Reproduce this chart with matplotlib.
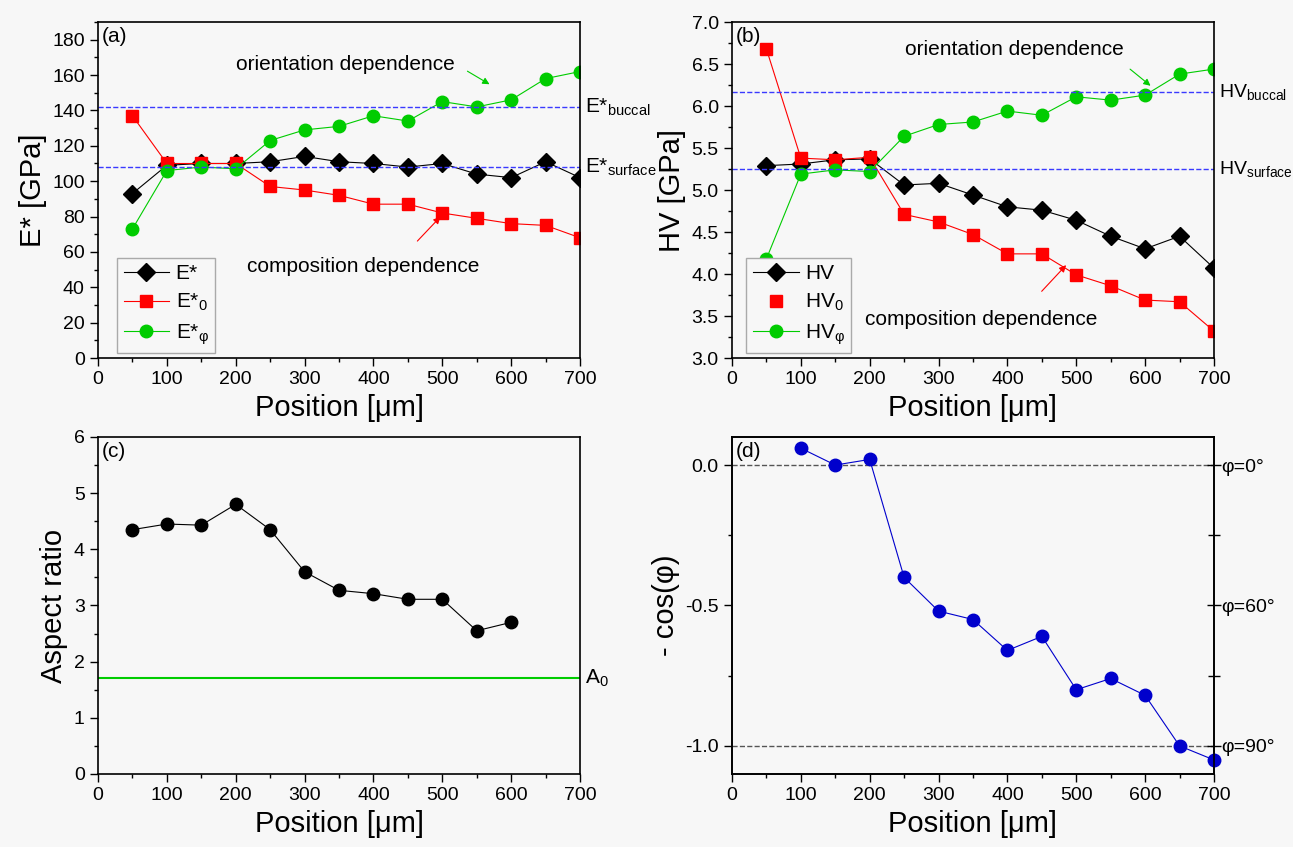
import numpy as np
import matplotlib
matplotlib.use('Agg')
import matplotlib.pyplot as plt
from matplotlib.ticker import MultipleLocator, FixedLocator, FormatStrFormatter

plt.rcParams['font.family'] = ['Liberation Sans', 'DejaVu Sans']
plt.rcParams['mathtext.fontset'] = 'custom'
plt.rcParams['mathtext.rm'] = 'Liberation Sans'
plt.rcParams['mathtext.it'] = 'Liberation Sans:italic'
plt.rcParams['axes.unicode_minus'] = False
plt.rcParams['font.size'] = 14

# 数据
pos = [50, 100, 150, 200, 250, 300, 350, 400, 450, 500, 550, 600, 650, 700]
E_star = [93, 109, 110, 110, 111, 114, 111, 110, 108, 110, 104, 102, 111, 102]
E_0 = [137, 110, 110, 110, 97, 95, 92, 87, 87, 82, 79, 76, 75, 68]
E_phi = [73, 106, 108, 107, 123, 129, 131, 137, 134, 145, 142, 146, 158, 162]
E_buccal = 142
E_surface = 108

HV = [5.29, 5.31, 5.36, 5.37, 5.06, 5.08, 4.94, 4.80, 4.76, 4.64, 4.45, 4.30, 4.45, 4.07]
HV_0 = [6.68, 5.38, 5.36, 5.39, 4.71, 4.62, 4.47, 4.24, 4.24, 3.99, 3.86, 3.69, 3.67, 3.32]
HV_phi = [4.18, 5.19, 5.24, 5.22, 5.64, 5.78, 5.81, 5.94, 5.89, 6.11, 6.07, 6.13, 6.38, 6.44]
HV_buccal = 6.17
HV_surface = 5.25

pos_c = [50, 100, 150, 200, 250, 300, 350, 400, 450, 500, 550, 600]
aspect = [4.35, 4.45, 4.43, 4.80, 4.35, 3.60, 3.27, 3.21, 3.11, 3.11, 2.55, 2.70]
A_0 = 1.7

pos_d = [100, 150, 200, 250, 300, 350, 400, 450, 500, 550, 600, 650, 700]
mcos = [0.06, 0.0, 0.02, -0.40, -0.52, -0.55, -0.66, -0.61, -0.80, -0.76, -0.82, -1.0, -1.05]
phi_ticks = [0.0, -0.5, -1.0]
phi_labels = ['φ=0°', 'φ=60°', 'φ=90°']

bg = '#f7f7f7'
green = '#00cc00'
red = '#ff0000'
blue_dash = '#3a3aff'

fig = plt.figure(figsize=(12.93, 8.47), dpi=100, facecolor=bg)
ax_a = fig.add_axes([0.0758, 0.5773, 0.3728, 0.3967])
ax_b = fig.add_axes([0.5661, 0.5773, 0.3728, 0.3967])
ax_c = fig.add_axes([0.0758, 0.0862, 0.3728, 0.3979])
ax_d = fig.add_axes([0.5661, 0.0862, 0.3728, 0.3979])

leg_kw = dict(loc='lower left', fancybox=False, edgecolor='#aaaaaa', facecolor=bg,
              framealpha=1, fontsize=15, handlelength=2.2, handletextpad=0.3,
              labelspacing=0.42, borderpad=0.3, borderaxespad=0.0)


def style(ax):
    ax.set_facecolor(bg)
    ax.set_xlim(0, 700)
    ax.xaxis.set_major_locator(MultipleLocator(100))
    ax.xaxis.set_minor_locator(MultipleLocator(50))
    ax.tick_params(which='major', direction='out', length=6, width=1, labelsize=14)
    ax.tick_params(which='minor', direction='out', length=3, width=1)
    for s in ax.spines.values():
        s.set_linewidth(1.2)
    ax.set_xlabel('Position [μm]', fontsize=21, labelpad=4)


# (a)
style(ax_a)
ax_a.plot(pos, E_star, 'D-', color='black', lw=0.8, ms=9, label='E*')
ax_a.plot(pos, E_0, 's-', color=red, lw=0.8, ms=8, label='E*$_0$')
ax_a.plot(pos, E_phi, 'o-', color=green, lw=0.8, ms=9, label='E*$_{\\mathrm{φ}}$')
ax_a.axhline(E_buccal, color=blue_dash, ls='--', lw=1)
ax_a.axhline(E_surface, color=blue_dash, ls='--', lw=1)
ax_a.set_ylim(0, 190)
ax_a.yaxis.set_major_locator(MultipleLocator(20))
ax_a.yaxis.set_minor_locator(MultipleLocator(10))
ax_a.set_ylabel('E* [GPa]', fontsize=21)
tr = ax_a.get_yaxis_transform()
ax_a.text(1.01, E_buccal, 'E*$_{\\mathrm{buccal}}$', transform=tr, va='center', fontsize=15, clip_on=False)
ax_a.text(1.01, E_surface, 'E*$_{\\mathrm{surface}}$', transform=tr, va='center', fontsize=15, clip_on=False)
ax_a.text(0.008, 0.985, '(a)', transform=ax_a.transAxes, va='top', fontsize=15)
ax_a.text(359, 166, 'orientation dependence', ha='center', va='center', fontsize=15)
ax_a.annotate('', xy=(572, 154), xytext=(533, 163),
              arrowprops=dict(arrowstyle='-|>', color=green, lw=0.8, mutation_scale=10))
ax_a.text(385, 52, 'composition dependence', ha='center', va='center', fontsize=15)
ax_a.annotate('', xy=(500, 81), xytext=(461, 65),
              arrowprops=dict(arrowstyle='-|>', color=red, lw=0.8, mutation_scale=10))
ax_a.legend(bbox_to_anchor=(0.04, 0.015), **leg_kw)

# (b)
style(ax_b)
ax_b.plot(pos, HV, 'D-', color='black', lw=0.8, ms=9, label='HV')
ax_b.plot(pos, HV_0, 's', color=red, ms=8, label='HV$_0$')
ax_b.plot(pos, HV_0, '-', color=red, lw=0.8)
ax_b.plot(pos, HV_phi, 'o-', color=green, lw=0.8, ms=9, label='HV$_{\\mathrm{φ}}$')
ax_b.axhline(HV_buccal, color=blue_dash, ls='--', lw=1)
ax_b.axhline(HV_surface, color=blue_dash, ls='--', lw=1)
ax_b.set_ylim(3.0, 7.0)
ax_b.yaxis.set_major_locator(MultipleLocator(0.5))
ax_b.yaxis.set_major_formatter(FormatStrFormatter('%.1f'))
ax_b.yaxis.set_minor_locator(MultipleLocator(0.25))
ax_b.set_ylabel('HV [GPa]', fontsize=21)
tr = ax_b.get_yaxis_transform()
ax_b.text(1.01, HV_buccal, 'HV$_{\\mathrm{buccal}}$', transform=tr, va='center', fontsize=14, clip_on=False)
ax_b.text(1.01, HV_surface, 'HV$_{\\mathrm{surface}}$', transform=tr, va='center', fontsize=14, clip_on=False)
ax_b.text(0.008, 0.985, '(b)', transform=ax_b.transAxes, va='top', fontsize=15)
ax_b.text(410, 6.67, 'orientation dependence', ha='center', va='center', fontsize=15)
ax_b.annotate('', xy=(611, 6.22), xytext=(575, 6.46),
              arrowprops=dict(arrowstyle='-|>', color=green, lw=0.8, mutation_scale=10))
ax_b.text(362, 3.46, 'composition dependence', ha='center', va='center', fontsize=15)
ax_b.annotate('', xy=(488, 4.13), xytext=(447, 3.77),
              arrowprops=dict(arrowstyle='-|>', color=red, lw=0.8, mutation_scale=10))
ax_b.legend(bbox_to_anchor=(0.03, 0.015), **leg_kw)

# (c)
style(ax_c)
ax_c.plot(pos_c, aspect, 'o-', color='black', lw=0.8, ms=9)
ax_c.axhline(A_0, color=green, lw=1.5)
ax_c.set_ylim(0, 6)
ax_c.yaxis.set_major_locator(MultipleLocator(1))
ax_c.yaxis.set_minor_locator(MultipleLocator(0.5))
ax_c.set_ylabel('Aspect ratio', fontsize=21)
ax_c.text(1.01, A_0, 'A$_0$', transform=ax_c.get_yaxis_transform(), va='center', fontsize=15, clip_on=False)
ax_c.text(0.008, 0.985, '(c)', transform=ax_c.transAxes, va='top', fontsize=15)

# (d)
style(ax_d)
ax_d.plot(pos_d, mcos, 'o-', color='#0000cc', lw=0.8, ms=9, clip_on=False, zorder=3)
ax_d.axhline(0.0, color='#555555', ls='--', lw=1)
ax_d.axhline(-1.0, color='#555555', ls='--', lw=1)
ax_d.set_ylim(-1.1, 0.1)
ax_d.yaxis.set_major_locator(FixedLocator([0.0, -0.5, -1.0]))
ax_d.yaxis.set_major_formatter(FormatStrFormatter('%.1f'))
ax_d.yaxis.set_minor_locator(FixedLocator([-0.25, -0.75]))
ax_d.set_ylabel('- cos(φ)', fontsize=21)
ax_d.text(0.008, 0.985, '(d)', transform=ax_d.transAxes, va='top', fontsize=15)
ax_r = ax_d.twinx()
ax_r.set_ylim(-1.1, 0.1)
ax_r.yaxis.set_major_locator(FixedLocator(phi_ticks))
ax_r.set_yticklabels(phi_labels)
ax_r.yaxis.set_minor_locator(FixedLocator([-0.25, -0.75]))
ax_r.tick_params(which='major', direction='inout', length=10, width=1, labelsize=14, pad=0)
ax_r.tick_params(which='minor', direction='inout', length=8, width=1)
for s in ax_r.spines.values():
    s.set_linewidth(1.2)

plt.savefig('out.png', dpi=100, facecolor=bg)
